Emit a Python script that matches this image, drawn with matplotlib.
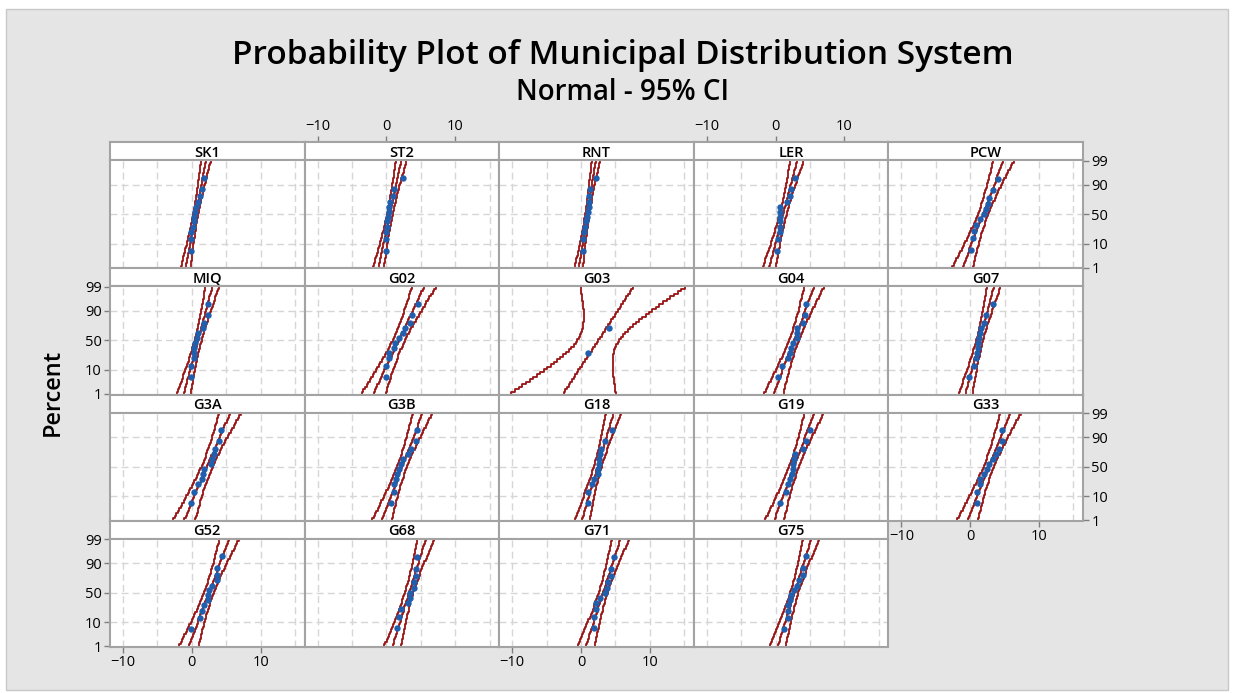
import numpy as np
import matplotlib
matplotlib.use("Agg")
import matplotlib.pyplot as plt
from matplotlib.patches import Rectangle
from statistics import NormalDist

# ---------------- data ----------------
panel_names = ["SK1", "ST2", "RNT", "LER", "PCW",
               "MIQ", "G02", "G03", "G04", "G07",
               "G3A", "G3B", "G18", "G19", "G33",
               "G52", "G68", "G71", "G75"]

sk1 = [-0.12, -0.1, -0.07, 0.17, 0.27, 0.32, 0.51, 0.61, 0.85, 1.14, 1.48, 1.82]
st2 = [-0.02, -0.01, 0.0, 0.02, 0.07, 0.27, 0.32, 0.37, 0.56, 0.9, 1.14, 2.41]
rnt = [0.3, 0.32, 0.41, 0.56, 0.66, 0.8, 0.95, 1.09, 1.19, 1.2, 1.29, 2.17]
ler = [0.27, 0.3, 0.58, 0.6, 0.6, 0.62, 0.65, 0.68, 1.6, 2.14, 2.24, 2.82]
pcw = [0.17, 0.41, 0.56, 0.85, 1.39, 2.02, 2.31, 2.6, 2.7, 3.29, 4.11]
miq = [-0.08, -0.06, 0.27, 0.3, 0.35, 0.46, 0.68, 0.85, 1.58, 1.82, 2.35, 2.38]
g02 = [-0.08, -0.06, 0.31, 0.33, 1.14, 1.24, 1.82, 2.36, 2.75, 3.39, 3.68, 4.65]
g03 = [0.95, 4.05]
g04 = [0.29, 0.97, 1.85, 2.15, 2.2, 2.48, 3.06, 3.1, 3.16, 4.04, 4.3, 4.35]
g07 = [-0.2, 0.6, 0.9, 1.0, 1.1, 1.2, 1.3, 1.4, 1.6, 2.0, 2.3, 3.3]
g3a = [-0.07, 0.27, 0.85, 1.48, 1.63, 1.82, 2.8, 2.99, 3.28, 3.33, 3.97, 4.31]
g3b = [0.66, 1.14, 1.15, 1.39, 1.53, 1.82, 2.12, 2.41, 3.09, 3.58, 4.3, 4.4]
g18 = [0.95, 1.0, 1.63, 1.92, 2.45, 2.5, 2.55, 2.6, 2.8, 2.9, 3.48, 4.45]
g19 = [0.63, 1.51, 1.85, 2.09, 2.34, 2.48, 2.58, 2.68, 2.82, 4.04, 4.38, 5.01]
g33 = [1.0, 1.05, 1.4, 1.45, 2.0, 2.5, 2.75, 3.33, 3.72, 4.2, 4.55, 4.6]
g52 = [-0.07, 1.14, 1.48, 1.82, 2.36, 2.4, 2.46, 2.99, 3.6, 3.65, 3.7, 4.36]
g68 = [1.53, 1.87, 2.12, 3.09, 3.38, 3.4, 3.97, 3.98, 4.31, 4.36, 4.38]
g71 = [1.85, 1.87, 2.21, 2.22, 2.8, 3.48, 3.72, 3.97, 4.31, 4.36, 4.74]
g75 = [1.27, 1.83, 1.85, 1.87, 2.09, 2.19, 2.73, 3.11, 3.41, 4.04, 4.05, 4.38]

panel_data = [sk1, st2, rnt, ler, pcw, miq, g02, g03, g04, g07,
              g3a, g3b, g18, g19, g33, g52, g68, g71, g75]

percent_ticks = [1, 10, 50, 90, 99]
x_ticks = [-10, 0, 10]
title = "Probability Plot of Municipal Distribution System"
subtitle = "Normal - 95% CI"
ylabel = "Percent"

# ---------------- style / layout ----------------
W, H = 1233, 693
DPI = 100
BG = "#e5e5e5"
FRAME = "#a3a3a3"
LINE_RED = "#981414"
DOT_BLUE = "#1f5fae"
GRID = "#d6d6d6"
FONT = ["Open Sans", "DejaVu Sans"]

plt.rcParams["font.family"] = FONT

nd = NormalDist()
def z_of(p):
    return nd.inv_cdf(p / 100.0)

fig = plt.figure(figsize=(W / DPI, H / DPI), dpi=DPI, facecolor="white")
fig.patches.append(Rectangle((6 / W, 1 - 690 / H), 1222 / W, 681 / H,
                             transform=fig.transFigure, facecolor=BG,
                             edgecolor="#c8c8c8", lw=1, zorder=-10))

def rect(left, top, w, h):
    return [left / W, 1 - (top + h) / H, w / W, h / H]

GRID_LEFT, GRID_RIGHT = 110, 1083
GRID_TOP, GRID_BOT = 142.3, 646.7
NCOL, NROW = 5, 4
colw = (GRID_RIGHT - GRID_LEFT) / NCOL
rowh = (GRID_BOT - GRID_TOP) / NROW
HDR = 18.0
TICKSIZE = 10.5

XLIM = (-11.9, 16.4)
ZLIM = (-2.35, 2.35)
zt = [z_of(p) for p in percent_ticks]

for k, (name, vals) in enumerate(zip(panel_names, panel_data)):
    r, c = divmod(k, NCOL)
    left = GRID_LEFT + c * colw
    top = GRID_TOP + r * rowh
    # header strip
    hax = fig.add_axes(rect(left, top, colw, HDR))
    hax.set_facecolor("white")
    hax.set_xticks([]); hax.set_yticks([])
    for s in hax.spines.values():
        s.set_color(FRAME); s.set_linewidth(1.5)
    hax.text(0.5, 0.42, name, ha="center", va="center", fontsize=10.5,
             fontweight="semibold", transform=hax.transAxes)
    # plot area
    ax = fig.add_axes(rect(left, top + HDR, colw, rowh - HDR))
    ax.set_facecolor("white")
    ax.set_xlim(*XLIM); ax.set_ylim(*ZLIM)
    for s in ax.spines.values():
        s.set_color(FRAME); s.set_linewidth(1.5)
    for gx in range(-10, 16, 5):
        ax.axvline(gx, color=GRID, lw=1.0, dashes=(5, 3), zorder=0)
    for gz in zt[1:-1]:
        ax.axhline(gz, color=GRID, lw=1.0, dashes=(5, 3), zorder=0)

    x = np.sort(np.asarray(vals, dtype=float))
    n = len(x)
    ranks = np.arange(1, n + 1)
    pz = np.array([nd.inv_cdf((i - 0.3) / (n + 0.4)) for i in ranks])
    mu = x.mean()
    sd = x.std(ddof=1)
    zz = np.linspace(ZLIM[0], ZLIM[1], 44)
    fit = mu + zz * sd
    half = 1.96 * sd * np.sqrt(1.0 / n + zz ** 2 / (2.0 * (n - 1)))
    for line in (fit - half, fit, fit + half):
        ax.plot(line, zz, color=LINE_RED, lw=1.3, drawstyle="steps-mid",
                zorder=2, clip_on=True)
    ax.plot(x, pz, "o", color=DOT_BLUE, ms=4.6, mec="none", zorder=3)

    # ticks
    ax.tick_params(axis="both", which="both", length=4, width=1,
                   color="#7f7f7f", labelsize=TICKSIZE, pad=2,
                   bottom=False, top=False, left=False, right=False,
                   labelbottom=False, labeltop=False,
                   labelleft=False, labelright=False)
    ax.set_xticks(x_ticks)
    ax.set_yticks(zt)
    ax.set_yticklabels([str(p) for p in percent_ticks])
    if (r == NROW - 1 and c in (0, 2)) or (r == NROW - 2 and c == 4):
        ax.tick_params(axis="x", bottom=True, labelbottom=True)
    if c == 4 and r in (0, 2):
        ax.tick_params(axis="y", right=True, labelright=True)
    if c == 0 and r in (1, 3):
        ax.tick_params(axis="y", left=True, labelleft=True)
    if r == 0 and c in (1, 3):
        hax.set_xlim(*XLIM)
        hax.set_xticks(x_ticks)
        hax.tick_params(axis="x", top=True, labeltop=True, bottom=False,
                        labelbottom=False, length=4, width=1,
                        color="#7f7f7f", labelsize=TICKSIZE, pad=2)

fig.text(623 / W, 1 - 56 / H, title, ha="center", va="center",
         fontsize=24, fontweight="semibold")
fig.text(623 / W, 1 - 92 / H, subtitle, ha="center", va="center",
         fontsize=20, fontweight="semibold")
fig.text(53 / W, 1 - 392 / H, ylabel, ha="center", va="center",
         rotation=90, fontsize=17, fontweight="semibold")

fig.savefig("out.png", dpi=DPI, facecolor="white")
